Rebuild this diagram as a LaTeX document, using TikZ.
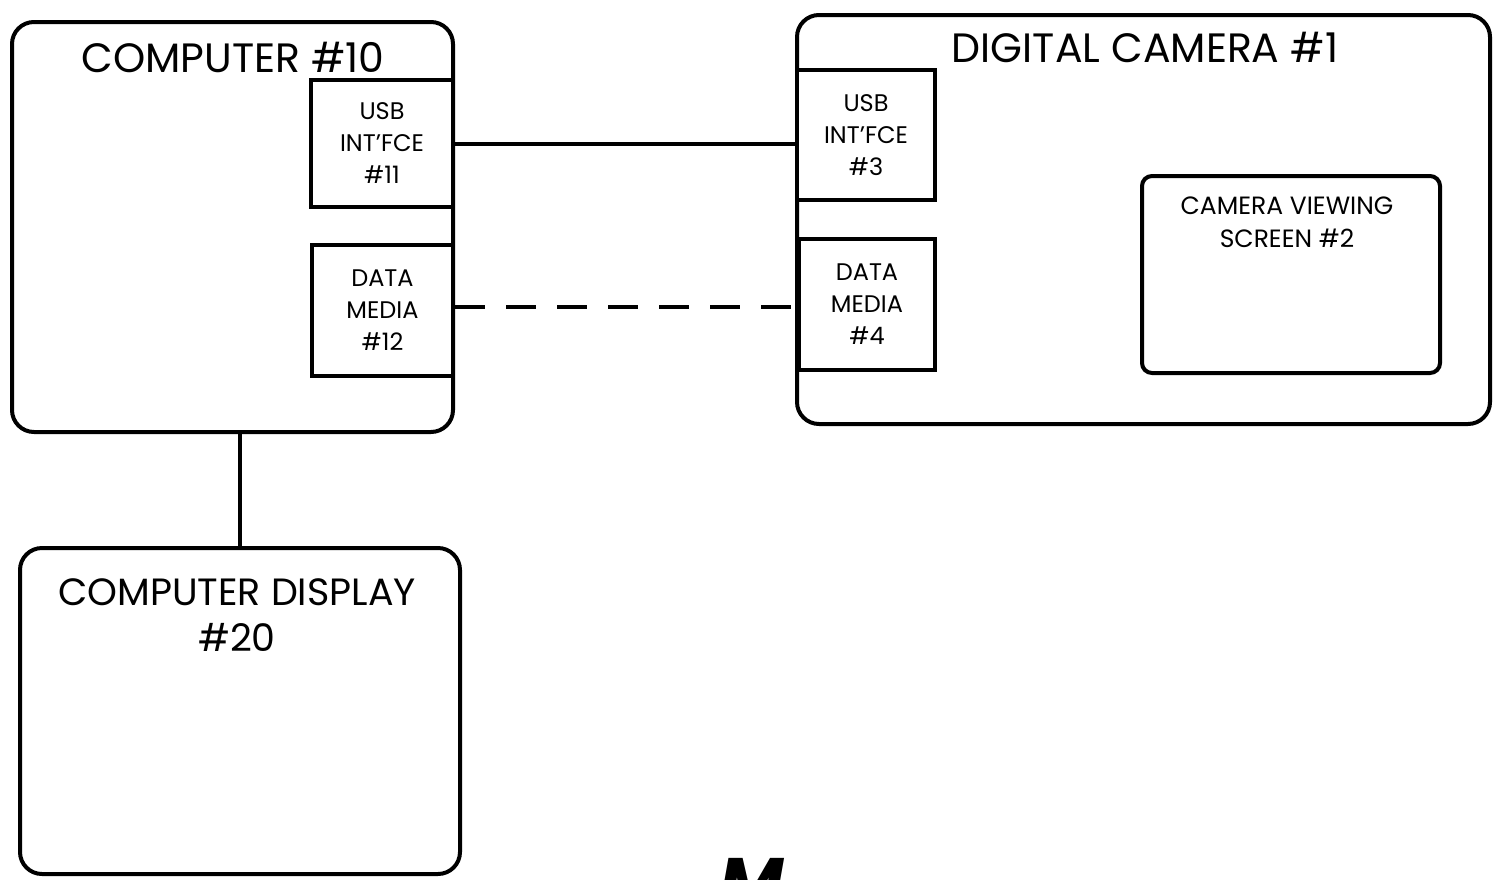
\documentclass[tikz,border=0pt]{standalone}
\usepackage{fontspec}
\setmainfont{Poppins}
\begin{document}
\begin{tikzpicture}[x=1pt,y=-1pt,
  bigbox/.style={draw,line width=4pt,rounded corners=22pt,inner sep=0pt},
  subbox/.style={draw,line width=4.5pt,fill=white,inner sep=0pt,align=center,
    font=\fontsize{24}{32}\selectfont},
  bigtext/.style={inner sep=0pt,align=center,font=\fontsize{38}{46}\selectfont},
  midtext/.style={inner sep=0pt,align=center,font=\fontsize{25}{33}\selectfont},
  link/.style={line width=4pt}]
\useasboundingbox (0,0) rectangle (1494,879);
% main boxes
\node[bigbox,minimum width=441pt,minimum height=410pt] (comp) at (232.5,227) {};
\node[bigbox,minimum width=693pt,minimum height=409pt] (cam) at (1143.5,219.5) {};
\node[bigbox,minimum width=440pt,minimum height=326pt] (disp) at (240,711) {};
\node[bigbox,rounded corners=10pt,minimum width=298pt,minimum height=197pt] (scr) at (1291,274.5) {};
% titles
\node[bigtext,font=\fontsize{41}{46}\selectfont] (compt) at (233,57) {COMPUTER \#10};
\node[bigtext,font=\fontsize{41}{46}\selectfont] (camt) at (1145,47) {DIGITAL CAMERA \#1};
\node[bigtext] (dispt) at (237,615) {COMPUTER DISPLAY\\\#20};
\node[midtext] (scrt) at (1287,222) {CAMERA VIEWING\\SCREEN \#2};
% sub boxes
\node[subbox,minimum width=142pt,minimum height=127pt] (usb11) at (382,143.5) {USB\\INT'FCE\\\#11};
\node[subbox,minimum width=141pt,minimum height=131pt] (dm12) at (382.5,310.5) {DATA\\MEDIA\\\#12};
\node[subbox,minimum width=138pt,minimum height=130pt] (usb3) at (866,135) {USB\\INT'FCE\\\#3};
\node[subbox,minimum width=136pt,minimum height=131pt] (dm4) at (867,304.5) {DATA\\MEDIA\\\#4};
% connectors
\draw[link] (usb11.east) -- (usb11.east -| usb3.west);
\draw[link,dash pattern=on 30pt off 21pt] (dm12.east |- 0,307) -- (dm4.west |- 0,307);
\draw[link] (comp.south -| disp.north) -- (disp.north);
% partial figure label at the bottom edge
\begin{scope}
\clip (0,0) rectangle (1494,879);
\node[inner sep=0pt,anchor=north,font=\fontsize{70}{70}\selectfont\bfseries\itshape] (fig) at (752,858) {M};
\end{scope}
\end{tikzpicture}
\end{document}
